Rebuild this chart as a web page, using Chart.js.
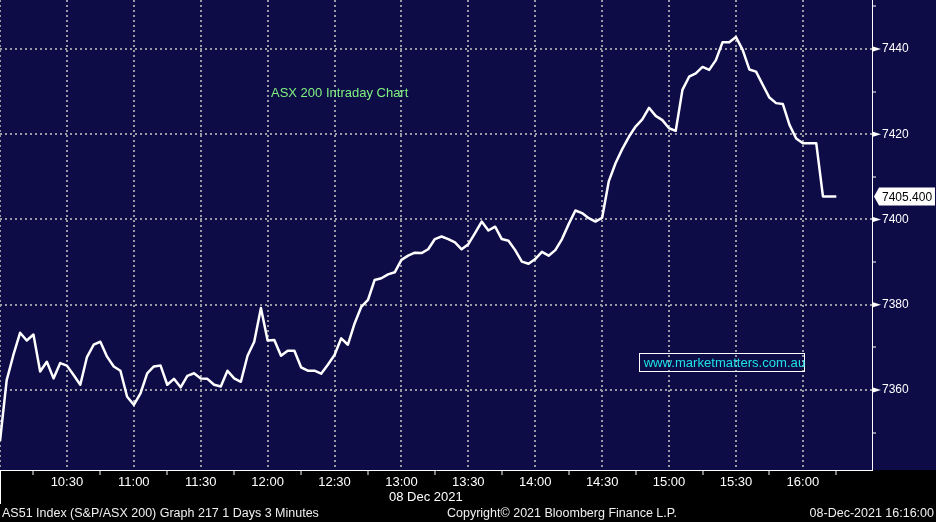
<!DOCTYPE html>
<html lang="en">
<head>
<meta charset="UTF-8">
<title>ASX 200 Intraday Chart</title>
<script src="https://cdn.jsdelivr.net/npm/chart.js@4"></script>
<style>
    html, body { margin: 0; padding: 0; background: #000; }
    .wrap { position: relative; width: 936px; height: 522px; overflow: hidden;
            font-family: "Liberation Sans", Arial, sans-serif; }
    canvas { position: absolute; left: 0; top: 0; }
    .txt { position: absolute; white-space: nowrap; line-height: 1; }
    .title { left: 271px; top: 86px; font-size: 13px; color: #7ff27f; }
    .site { left: 639px; top: 353px; width: 164px; height: 17px; border: 1px solid #fff;
            font-size: 13.1px; color: #1ee0e6; line-height: 17px; padding-left: 0; }
    .date { left: 389px; top: 490px; font-size: 13px; color: #fff; }
    .foot { top: 507px; font-size: 12.5px; color: #f0f0f0; }
</style>
</head>
<body>
<div class="wrap">
    <canvas id="chart" width="936" height="522"></canvas>
    <div class="txt title">ASX 200 Intraday Chart</div>
    <div class="txt site">&nbsp;www.marketmatters.com.au</div>
    <div class="txt date">08 Dec 2021</div>
    <div class="txt foot" style="left:2px;">AS51 Index (S&amp;P/ASX 200) Graph 217 1 Days 3 Minutes</div>
    <div class="txt foot" style="left:447px;">Copyright© 2021 Bloomberg Finance L.P.</div>
    <div class="txt foot" style="right:2px;">08-Dec-2021 16:16:00</div>
</div>

<script>
    // 3 minute bars from 10:00
    const startTime = '10:00';
    const barMinutes = 3;
    const closes = [
        7348.0, 7362.3, 7368.2, 7373.4, 7371.6, 7373.0, 7364.3, 7366.6, 7362.7, 7366.3,
        7365.7, 7363.5, 7361.2, 7367.7, 7370.6, 7371.3, 7367.8, 7365.5, 7364.5, 7358.4,
        7356.5, 7359.2, 7363.9, 7365.5, 7365.7, 7361.2, 7362.6, 7360.6, 7363.3, 7363.9,
        7362.7, 7362.6, 7361.2, 7360.8, 7364.5, 7362.7, 7361.9, 7368.0, 7371.3, 7379.2,
        7371.6, 7371.7, 7368.0, 7369.2, 7369.2, 7365.3, 7364.5, 7364.5, 7363.8, 7365.9,
        7368.2, 7372.1, 7370.6, 7375.6, 7379.5, 7381.1, 7385.8, 7386.2, 7387.1, 7387.6,
        7390.5, 7391.5, 7392.2, 7392.1, 7393.0, 7395.4, 7396.0, 7395.4, 7394.6, 7393.0,
        7394.2, 7396.8, 7399.5, 7397.4, 7398.3, 7395.4, 7395.0, 7392.8, 7390.1, 7389.6,
        7390.7, 7392.4, 7391.5, 7392.8, 7395.4, 7398.9, 7402.1, 7401.5, 7400.3, 7399.5,
        7400.4, 7409.0, 7413.2, 7416.5, 7419.4, 7421.8, 7423.5, 7426.2, 7424.3, 7423.3,
        7421.4, 7420.8, 7430.4, 7433.5, 7434.3, 7435.8, 7435.1, 7437.4, 7441.6, 7441.6,
        7442.8, 7439.8, 7435.2, 7434.7, 7431.6, 7428.6, 7427.3, 7427.1, 7422.2, 7419.0,
        7417.9, 7417.9, 7417.9, 7405.4, 7405.4, 7405.4
    ];
    const lastPrice = 7405.400;

    // axis ticks
    const gridTimes = ['10:00', '10:30', '11:00', '11:30', '12:00', '12:30', '13:00', '13:30',
                       '14:00', '14:30', '15:00', '15:30', '16:00'];
    const timeLabels = ['10:30', '11:00', '11:30', '12:00', '12:30', '13:00', '13:30',
                        '14:00', '14:30', '15:00', '15:30', '16:00'];
    const minorTimes = ['10:15', '10:45', '11:15', '11:45', '12:15', '12:45', '13:15',
                        '13:45', '14:15', '14:45', '15:15', '15:45', '16:15'];
    const priceLabels = [7360, 7380, 7400, 7420, 7440];
    const minorPrices = [7350, 7370, 7390, 7410, 7430, 7450];
    const xRange = ['10:00', '16:31'];
    const yRange = [7341.2, 7451.5];

    const NAVY = '#0e0c46';
    const GRID = '#9a9aa4';

    const toMin = t => { const [h, m] = t.split(':').map(Number); return h * 60 + m; };
    const toTime = v => Math.floor(v / 60) + ':' + String(v % 60).padStart(2, '0');

    const start = toMin(startTime);
    const points = closes.map((v, i) => ({ x: start + i * barMinutes, y: v }));

    const gridSet = new Set(gridTimes.map(toMin));
    const labelSet = new Set(timeLabels.map(toMin));
    const minorSet = new Set(minorTimes.map(toMin));
    const xTicks = [...new Set([...gridTimes, ...minorTimes].map(toMin))].sort((a, b) => a - b);
    const yTicks = [...priceLabels, ...minorPrices].sort((a, b) => a - b);

    const frame = {
        id: 'frame',
        beforeDraw(chart) {
            const { ctx, chartArea } = chart;
            ctx.save();
            ctx.fillStyle = '#000';
            ctx.fillRect(0, 0, chart.width, chart.height);
            ctx.fillStyle = NAVY;
            ctx.fillRect(0, 0, chart.width, chartArea.bottom);
            ctx.restore();
        },
        afterDraw(chart) {
            const { ctx, chartArea } = chart;
            const y = chart.scales.y;
            const ax = Math.round(chartArea.right);
            ctx.save();
            // little arrows on the labelled prices
            ctx.fillStyle = '#fff';
            priceLabels.forEach(v => {
                const py = y.getPixelForValue(v);
                ctx.beginPath();
                ctx.moveTo(ax + 1, py - 2.5);
                ctx.lineTo(ax + 9, py);
                ctx.lineTo(ax + 1, py + 2.5);
                ctx.closePath();
                ctx.fill();
            });
            // left edge under the plot
            ctx.strokeStyle = '#fff';
            ctx.lineWidth = 1;
            ctx.beginPath();
            ctx.moveTo(0.5, chartArea.bottom);
            ctx.lineTo(0.5, chartArea.bottom + 34);
            ctx.stroke();
            // last price tag
            const py = Math.round(y.getPixelForValue(lastPrice)) + 0.5;
            ctx.beginPath();
            ctx.moveTo(ax + 2, py);
            ctx.lineTo(ax + 7, py - 9);
            ctx.lineTo(chart.width - 1, py - 9);
            ctx.lineTo(chart.width - 1, py + 9);
            ctx.lineTo(ax + 7, py + 9);
            ctx.closePath();
            ctx.fill();
            ctx.fillStyle = '#000';
            ctx.font = '12px "Liberation Sans", Arial, sans-serif';
            ctx.textBaseline = 'middle';
            ctx.fillText(lastPrice.toFixed(3), ax + 10, py + 1);
            ctx.restore();
        }
    };

    new Chart(document.getElementById('chart'), {
        type: 'line',
        data: {
            datasets: [{
                label: 'AS51 Index',
                data: points,
                borderColor: '#ffffff',
                borderWidth: 2.5,
                borderJoinStyle: 'round',
                pointRadius: 0,
                tension: 0,
                fill: false
            }]
        },
        options: {
            responsive: false,
            animation: false,
            layout: { padding: 0 },
            plugins: { legend: { display: false }, tooltip: { enabled: false } },
            scales: {
                x: {
                    type: 'linear',
                    min: toMin(xRange[0]),
                    max: toMin(xRange[1]),
                    afterBuildTicks: s => { s.ticks = xTicks.map(v => ({ value: v })); },
                    afterFit: s => { s.height = 52; s.paddingLeft = 0; s.paddingRight = 0; },
                    ticks: {
                        autoSkip: false,
                        maxRotation: 0,
                        color: '#ffffff',
                        padding: 0,
                        font: { family: '"Liberation Sans", Arial, sans-serif', size: 13 },
                        callback: v => labelSet.has(v) ? toTime(v) : ''
                    },
                    grid: {
                        lineWidth: 2,
                        color: c => c.tick && gridSet.has(c.tick.value) ? GRID : 'transparent',
                        tickColor: c => c.tick && minorSet.has(c.tick.value) ? '#ffffff' : 'transparent',
                        tickWidth: 1,
                        tickLength: 5
                    },
                    border: { display: true, color: '#ffffff', width: 1, dash: [2, 3] }
                },
                y: {
                    position: 'right',
                    min: yRange[0],
                    max: yRange[1],
                    afterBuildTicks: s => { s.ticks = yTicks.map(v => ({ value: v })); },
                    afterFit: s => { s.width = 64; s.paddingTop = 0; s.paddingBottom = 0; },
                    ticks: {
                        color: '#ffffff',
                        padding: 6,
                        font: { family: '"Liberation Sans", Arial, sans-serif', size: 12 },
                        callback: v => priceLabels.includes(v) ? String(v) : ''
                    },
                    grid: {
                        lineWidth: 2,
                        color: c => c.tick && priceLabels.includes(c.tick.value) ? GRID : 'transparent',
                        tickColor: c => c.tick && minorPrices.includes(c.tick.value) ? '#ffffff' : 'transparent',
                        tickWidth: 1,
                        tickLength: 4
                    },
                    border: { display: true, color: '#ffffff', width: 1, dash: [2, 3] }
                }
            }
        },
        plugins: [frame]
    });
</script>
</body>
</html>
